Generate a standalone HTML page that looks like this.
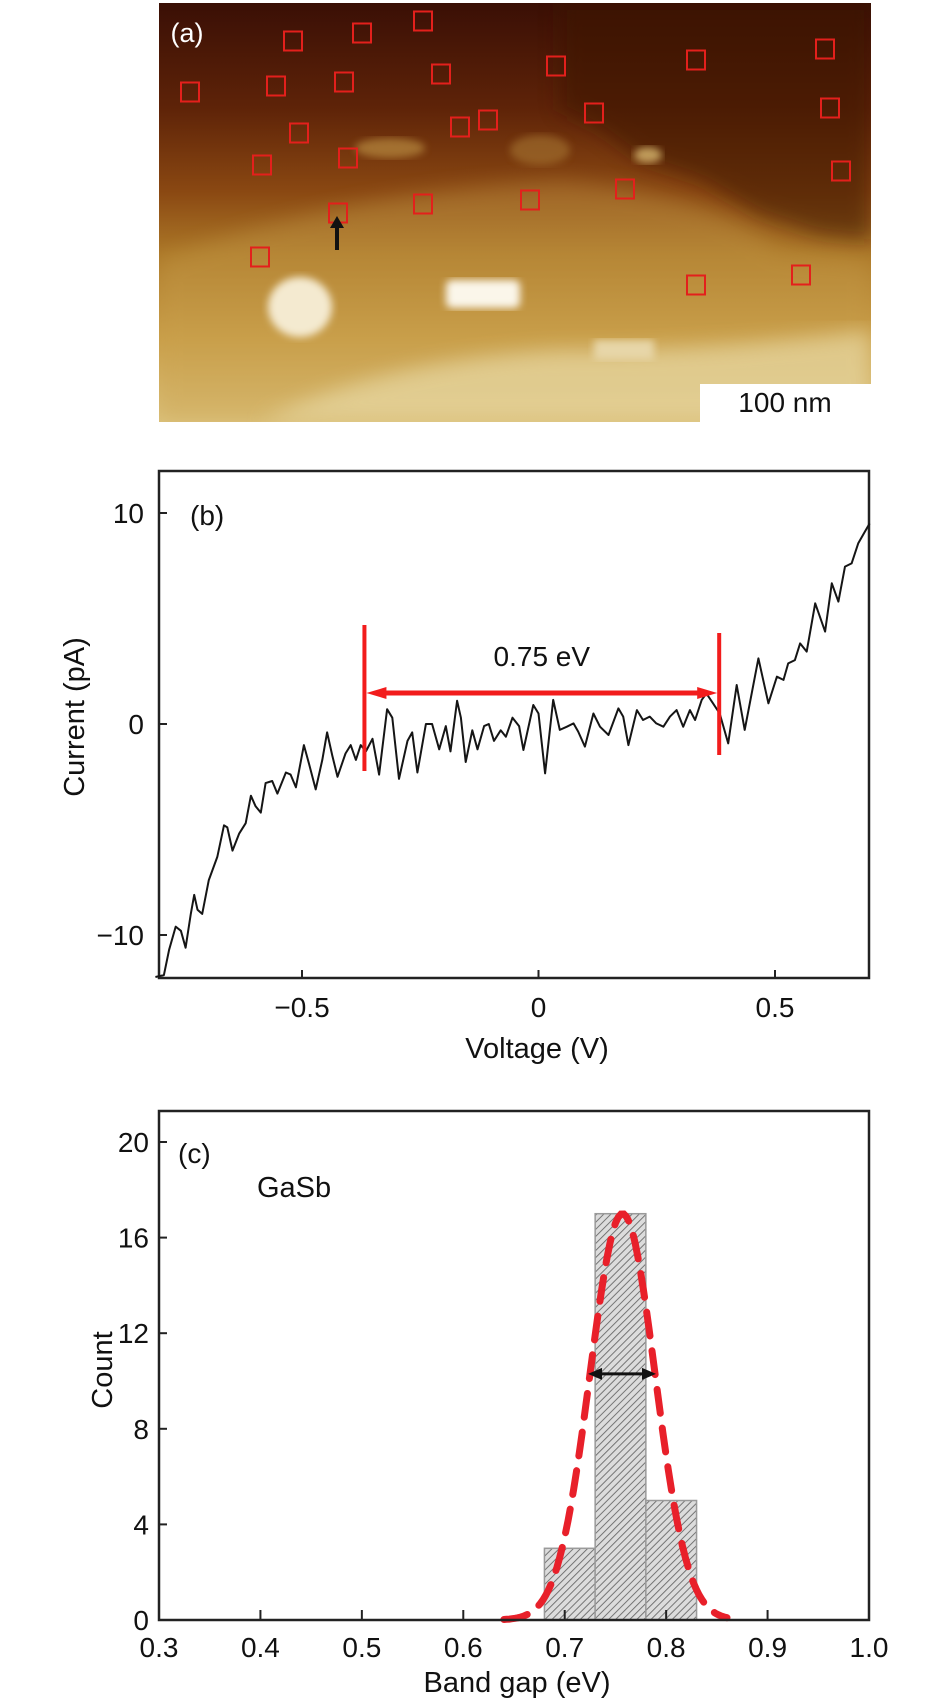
<!DOCTYPE html>
<html><head><meta charset="utf-8">
<style>
html,body{margin:0;padding:0;background:#fff;}
body{width:945px;height:1701px;position:relative;overflow:hidden;font-family:"Liberation Sans Narrow","Liberation Sans",sans-serif;}
svg{position:absolute;left:0;top:0;}
text{font-family:"Liberation Sans Narrow","Liberation Sans",sans-serif;fill:#111;}
</style></head>
<body>
<svg id="fig" width="945" height="1701" viewBox="0 0 945 1701">
<defs>
<linearGradient id="afm" x1="0" y1="0" x2="0" y2="1">
<stop offset="0" stop-color="#3a0f05"/>
<stop offset="0.25" stop-color="#5e2308"/>
<stop offset="0.45" stop-color="#8a4812"/>
<stop offset="0.6" stop-color="#ac7828"/>
<stop offset="0.8" stop-color="#c99e48"/>
<stop offset="1" stop-color="#dcc27c"/>
</linearGradient>
<filter id="blur8"><feGaussianBlur stdDeviation="10"/></filter>
<filter id="blur3"><feGaussianBlur stdDeviation="4"/></filter>
<pattern id="hatch" width="5" height="5" patternUnits="userSpaceOnUse" patternTransform="rotate(45)">
<rect width="5" height="5" fill="#dcdcdc"/>
<line x1="0" y1="0" x2="0" y2="5" stroke="#6a6a6a" stroke-width="1.8"/>
</pattern>
<clipPath id="aclip"><rect x="159" y="3" width="712" height="419"/></clipPath>
</defs>

<!-- Panel (a) -->
<g id="panel-a" clip-path="url(#aclip)">
<rect x="159" y="3" width="712" height="419" fill="url(#afm)"/>
<path d="M560,3 L871,3 L871,240 L820,235 L760,215 L700,180 L640,160 L600,130 L560,110 Z" fill="#3e1206" opacity="0.55" filter="url(#blur8)"/>
<path d="M159,260 Q350,190 560,180 Q700,190 780,250 L871,260 L871,422 L159,422 Z" fill="#c9a150" opacity="0.35" filter="url(#blur8)"/>
<path d="M260,422 Q380,360 560,350 Q700,352 871,330 L871,422 Z" fill="#e8d9a4" opacity="0.7" filter="url(#blur8)"/>
<ellipse cx="300" cy="307" rx="32" ry="30" fill="#f4ead0" filter="url(#blur3)"/>
<rect x="446" y="280" width="74" height="28" rx="6" fill="#fbf6ea" filter="url(#blur3)"/>
<rect x="594" y="340" width="60" height="20" fill="#e7d6a8" filter="url(#blur3)"/>
<ellipse cx="390" cy="148" rx="35" ry="10" fill="#b88a40" opacity="0.7" filter="url(#blur3)"/>
<ellipse cx="540" cy="150" rx="30" ry="15" fill="#a67430" opacity="0.6" filter="url(#blur3)"/>
<ellipse cx="648" cy="155" rx="14" ry="8" fill="#d8b870" opacity="0.8" filter="url(#blur3)"/>
<rect x="700" y="384" width="171" height="40" fill="#fff"/>
<text x="785" y="412" font-size="28" text-anchor="middle">100 nm</text>
<text x="187" y="42" font-size="27" text-anchor="middle" style="fill:#fff">(a)</text>
<g id="squares"></g>
<line x1="337" y1="250" x2="337" y2="225" stroke="#111" stroke-width="4"/>
<polygon points="330,228 344,228 337,216" fill="#111"/>
</g>

<!-- Panel (b) -->
<g id="panel-b">
<rect x="159" y="471" width="710" height="507" fill="none" stroke="#222" stroke-width="2.5"/>
<g id="b-ticks"></g>
<path id="iv-line" fill="none" stroke="#151515" stroke-width="2" stroke-linejoin="round"/>
<g id="b-gap"></g>
<text x="190" y="476" font-size="28" transform="translate(0,0)"><tspan x="190" y="525">(b)</tspan></text>
<text x="537" y="1058" font-size="29" text-anchor="middle">Voltage (V)</text>
<text transform="translate(84,717) rotate(-90)" font-size="29" text-anchor="middle">Current (pA)</text>
</g>

<!-- Panel (c) -->
<g id="panel-c">
<g id="c-bars"></g>
<path id="c-fit" fill="none" stroke="#e8202a" stroke-width="7" stroke-dasharray="24 15" stroke-linecap="round"/>
<g id="c-arrow"></g>
<rect x="159" y="1111" width="710" height="509" fill="none" stroke="#222" stroke-width="2.5"/>
<g id="c-ticks"></g>
<text x="178" y="1163" font-size="28">(c)</text>
<text x="257" y="1197" font-size="29">GaSb</text>
<text x="517" y="1692" font-size="29" text-anchor="middle">Band gap (eV)</text>
<text transform="translate(112,1370) rotate(-90)" font-size="29" text-anchor="middle">Count</text>
</g>
</svg>

<script>
const NS = "http://www.w3.org/2000/svg";
// ---------- Panel (a) data ----------
const squareX = [190,293,362,423,276,344,441,556,696,825,299,460,488,594,830,262,348,841,338,423,530,625,260,696,801];
const squareY = [92,41,33,21,86,82,74,66,60,49,133,127,120,113,108,165,158,171,213,204,200,189,257,285,275];

// ---------- Panel (b) data ----------
const voltage = [-0.81,-0.792,-0.781,-0.767,-0.756,-0.746,-0.735,-0.728,-0.721,-0.711,-0.697,-0.679,-0.665,-0.658,-0.647,-0.633,-0.619,-0.608,-0.598,-0.587,-0.577,-0.563,-0.552,-0.534,-0.524,-0.513,-0.496,-0.485,-0.471,-0.457,-0.447,-0.436,-0.425,-0.408,-0.397,-0.386,-0.376,-0.365,-0.351,-0.337,-0.320,-0.309,-0.295,-0.277,-0.267,-0.256,-0.238,-0.225,-0.210,-0.196,-0.186,-0.172,-0.164,-0.154,-0.140,-0.129,-0.115,-0.105,-0.094,-0.080,-0.069,-0.055,-0.041,-0.032,-0.011,0.000,0.014,0.031,0.045,0.060,0.074,0.084,0.098,0.116,0.130,0.148,0.169,0.179,0.190,0.208,0.221,0.235,0.249,0.264,0.278,0.292,0.306,0.320,0.331,0.345,0.355,0.369,0.383,0.401,0.419,0.436,0.465,0.486,0.504,0.518,0.528,0.542,0.553,0.567,0.585,0.606,0.620,0.634,0.648,0.662,0.676,0.690,0.700];
const current = [-12.1,-11.9,-10.7,-9.6,-9.8,-10.6,-9.0,-8.1,-8.8,-9.0,-7.4,-6.3,-4.8,-4.9,-6.0,-5.2,-4.7,-3.4,-3.9,-4.2,-2.8,-2.7,-3.3,-2.3,-2.4,-3.0,-1.0,-1.9,-3.1,-1.7,-0.4,-1.5,-2.5,-1.4,-1.0,-1.7,-1.0,-1.3,-0.7,-2.4,0.7,0.3,-2.6,-0.8,-0.4,-2.3,0.0,0.0,-1.2,-0.1,-1.3,1.1,0.3,-1.8,-0.3,-1.2,-0.1,0.0,-0.8,-0.3,-0.6,0.3,-0.1,-1.23,0.9,0.5,-2.34,1.14,-0.28,-0.13,0.03,-0.36,-1.07,0.5,-0.13,-0.52,0.74,0.35,-1.0,0.66,0.19,0.35,0.03,-0.13,0.35,0.66,-0.13,0.66,0.19,1.14,1.45,0.98,0.5,-0.92,1.85,-0.28,3.11,0.98,2.24,2.09,2.87,3.03,3.82,3.43,5.72,4.38,6.67,5.8,7.46,7.61,8.56,9.12,9.5];
const bXTicks = [-0.5, 0, 0.5];
const bXTickLabels = ["\u22120.5", "0", "0.5"];
const bYTicks = [10, 0, -10];
const bYTickLabels = ["10", "0", "\u221210"];
const gapBounds = [-0.368, 0.382];
const gapArrowCurrent = [1.47];
const gapLabel = ["0.75 eV"];

// ---------- Panel (c) data ----------
const binEdges = [0.68, 0.73, 0.78, 0.83];
const counts = [3, 17, 5];
const fitParams = [17, 0.757, 0.032];   // amplitude, center, sigma
const fitRange = [0.64, 0.86];
const fwhmArrow = [0.723, 0.79, 10.3];
const cXTicks = [0.3,0.4,0.5,0.6,0.7,0.8,0.9,1.0];
const cXTickLabels = ["0.3","0.4","0.5","0.6","0.7","0.8","0.9","1.0"];
const cYTicks = [0,4,8,12,16,20];

// ---------- axes ----------
const bx = v => 538.5 + v * 473;
const by = i => 724 - i * 21.1;
const cx = e => 159 + (e - 0.3) / 0.7 * 710;
const cy = n => 1620 - n * 23.9;

function mk(tag, attrs, parent){ const el=document.createElementNS(NS,tag); for(const k in attrs) el.setAttribute(k, attrs[k]); parent.appendChild(el); return el; }

// squares
const sq = document.getElementById('squares');
squareX.forEach((x,i)=>{
  const r = mk('rect',{x:x-9,y:squareY[i]-9.5,width:18,height:19,fill:'none',stroke:'#e3201c','stroke-width':2},sq);
  
  
});

// panel b ticks
const bt = document.getElementById('b-ticks');
bXTicks.forEach((v,i)=>{
  const l = mk('line',{x1:bx(v),x2:bx(v),y1:978,y2:970,stroke:'#222','stroke-width':2},bt);
  
  
  const t = mk('text',{x:bx(v),y:1017,'font-size':28,'text-anchor':'middle'},bt);
  t.textContent = bXTickLabels[i];
  
  
});
bYTicks.forEach((v,i)=>{
  const l = mk('line',{x1:159,x2:167,y1:by(v),y2:by(v),stroke:'#222','stroke-width':2},bt);
  
  
  const t = mk('text',{x:144,y:by(v)+10,'font-size':28,'text-anchor':'end'},bt);
  t.textContent = bYTickLabels[i];
  
  
});
// curve
let d='';
voltage.forEach((v,i)=>{ d += (i?'L':'M') + bx(v).toFixed(1) + ',' + Math.min(977,by(current[i])).toFixed(1); });
document.getElementById('iv-line').setAttribute('d', d);

// gap markers
const bg = document.getElementById('b-gap');
gapBounds.forEach((v,i)=>{
  const l = mk('line',{x1:bx(v),x2:bx(v),y1:by(gapArrowCurrent[0])-(i?60:68),y2:by(gapArrowCurrent[0])+(i?62:78),stroke:'#f21c1c','stroke-width':4},bg);
  
  
});
const ay = by(gapArrowCurrent[0]);
const ax1 = bx(gapBounds[0]), ax2 = bx(gapBounds[1]);
const gl = mk('line',{x1:ax1+14,x2:ax2-14,y1:ay,y2:ay,stroke:'#f21c1c','stroke-width':5},bg);


const ga1 = mk('polygon',{points:`${ax1+2},${ay} ${ax1+22},${ay-6} ${ax1+22},${ay+6}`,fill:'#f21c1c'},bg);


const ga2 = mk('polygon',{points:`${ax2-2},${ay} ${ax2-22},${ay-6} ${ax2-22},${ay+6}`,fill:'#f21c1c'},bg);


const gt = mk('text',{x:(ax1+ax2)/2,y:ay-27,'font-size':28,'text-anchor':'middle'},bg);
gt.textContent = gapLabel[0];



// panel c bars
const cb = document.getElementById('c-bars');
counts.forEach((n,i)=>{
  const x0=cx(binEdges[i]), x1=cx(binEdges[i+1]);
  const r = mk('rect',{x:x0,y:cy(n),width:x1-x0,height:cy(0)-cy(n),fill:'url(#hatch)',stroke:'#9a9a9a','stroke-width':1.5},cb);
  
  
});
// fit
let fd='';
const steps=80;
for(let k=0;k<=steps;k++){
  const e = fitRange[0] + (fitRange[1]-fitRange[0])*k/steps;
  const n = fitParams[0]*Math.exp(-Math.pow(e-fitParams[1],2)/(2*fitParams[2]*fitParams[2]));
  fd += (k?'L':'M') + cx(e).toFixed(1) + ',' + cy(n).toFixed(1);
}
document.getElementById('c-fit').setAttribute('d', fd);
// fwhm arrow
const ca = document.getElementById('c-arrow');
const fx1=cx(fwhmArrow[0]), fx2=cx(fwhmArrow[1]), fy=cy(fwhmArrow[2]);
const fl = mk('line',{x1:fx1+8,x2:fx2-8,y1:fy,y2:fy,stroke:'#111','stroke-width':3},ca);


const fa1 = mk('polygon',{points:`${fx1},${fy} ${fx1+14},${fy-6} ${fx1+14},${fy+6}`,fill:'#111'},ca);


const fa2 = mk('polygon',{points:`${fx2},${fy} ${fx2-14},${fy-6} ${fx2-14},${fy+6}`,fill:'#111'},ca);



// panel c ticks
const ct = document.getElementById('c-ticks');
cXTicks.forEach((v,i)=>{
  const l = mk('line',{x1:cx(v),x2:cx(v),y1:1620,y2:1610,stroke:'#222','stroke-width':2},ct);
  
  
  const t = mk('text',{x:cx(v),y:1657,'font-size':28,'text-anchor':'middle'},ct);
  t.textContent = cXTickLabels[i];
  
  
});
cYTicks.forEach(v=>{
  const l = mk('line',{x1:159,x2:167,y1:cy(v),y2:cy(v),stroke:'#222','stroke-width':2},ct);
  
  
  const t = mk('text',{x:149,y:cy(v)+10,'font-size':28,'text-anchor':'end'},ct);
  t.textContent = String(v);
  
  
});
</script>
</body></html>
